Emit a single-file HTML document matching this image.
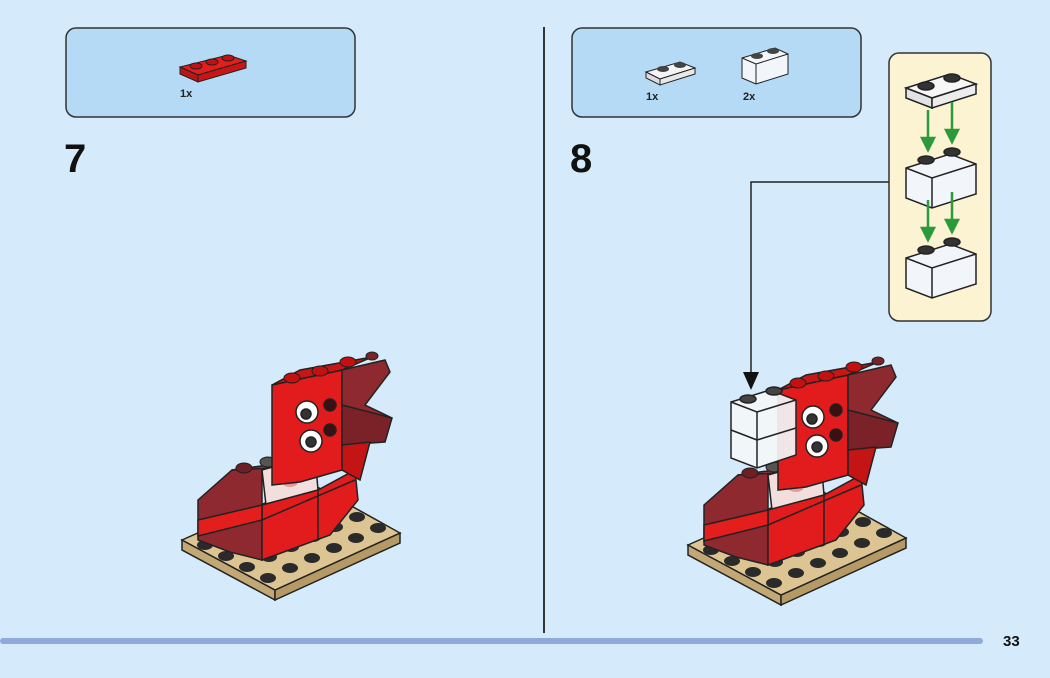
<!DOCTYPE html>
<html><head><style>
body{margin:0;background:#d5ebfb;width:1050px;height:673px;overflow:hidden;font-family:"Liberation Sans",sans-serif}
</style></head><body>
<svg width="1050" height="673" viewBox="0 0 1050 673" xmlns="http://www.w3.org/2000/svg">
<defs>
<g id="model">
  <polygon points="182,540 275,590 275,600 182,550" fill="#c2a874" stroke="#222" stroke-width="1.5"/>
  <polygon points="275,590 400,533 400,543 275,600" fill="#b59a66" stroke="#222" stroke-width="1.5"/>
  <polygon points="182,540 310,483 400,533 275,590" fill="#dcc592" stroke="#222" stroke-width="1.5"/>
  <g fill="#2a2a2a">
    <ellipse cx="205" cy="545" rx="8" ry="5"/><ellipse cx="226" cy="556" rx="8" ry="5"/><ellipse cx="247" cy="567" rx="8" ry="5"/><ellipse cx="268" cy="578" rx="8" ry="5"/>
    <ellipse cx="290" cy="568" rx="8" ry="5"/><ellipse cx="312" cy="558" rx="8" ry="5"/><ellipse cx="334" cy="548" rx="8" ry="5"/><ellipse cx="356" cy="538" rx="8" ry="5"/><ellipse cx="378" cy="528" rx="8" ry="5"/>
    <ellipse cx="269" cy="557" rx="8" ry="5"/><ellipse cx="291" cy="547" rx="8" ry="5"/><ellipse cx="313" cy="537" rx="8" ry="5"/><ellipse cx="335" cy="527" rx="8" ry="5"/><ellipse cx="357" cy="517" rx="8" ry="5"/>
    <ellipse cx="248" cy="546" rx="8" ry="5"/><ellipse cx="336" cy="506" rx="8" ry="5"/>
  </g>
  <!-- lower body -->
  <polygon points="198,500 232,470 262,466 262,560 230,552 198,540" fill="#8e2a2f" stroke="#222" stroke-width="1.5"/>
  <polygon points="232,470 262,466 300,455 272,468" fill="#a8343a" stroke="#222" stroke-width="1.5"/>
  <ellipse cx="244" cy="468" rx="8" ry="5" fill="#6e1f24" stroke="#222"/>
  <polygon points="262,470 315,455 318,490 266,505" fill="#f3dede" stroke="#222" stroke-width="1.5"/>
  <ellipse cx="290" cy="482" rx="8" ry="5" fill="#e59a9a"/>
  <ellipse cx="268" cy="462" rx="8" ry="5" fill="#555" stroke="#222"/>
  <polygon points="262,505 318,490 355,470 358,500 330,535 262,560" fill="#e21c1c" stroke="#222" stroke-width="1.5"/>
  <line x1="318" y1="490" x2="318" y2="540" stroke="#222" stroke-width="1.5"/>
  <polygon points="198,520 262,505 262,520 198,536" fill="#e41d1d" stroke="#222" stroke-width="1.5"/>
  <line x1="262" y1="520" x2="355" y2="480" stroke="#222" stroke-width="1.5"/>
  <!-- tower -->
  <polygon points="272,385 342,370 342,470 300,482 272,485" fill="#e21c1c" stroke="#222" stroke-width="1.5"/>
  <polygon points="272,385 300,370 372,357 342,370" fill="#c81616" stroke="#222" stroke-width="1.5"/>
  <polygon points="342,370 385,360 390,372 365,405 392,418 342,420" fill="#8e2a2f" stroke="#222" stroke-width="1.5"/>
  <polygon points="342,405 392,418 385,442 342,445" fill="#7a2228" stroke="#222" stroke-width="1.5"/>
  <polygon points="342,445 370,442 360,480 342,470" fill="#c41414" stroke="#222" stroke-width="1.5"/>
  <g fill="#c41010" stroke="#222"><ellipse cx="292" cy="378" rx="8" ry="5"/><ellipse cx="320" cy="371" rx="8" ry="5"/><ellipse cx="348" cy="362" rx="8" ry="5"/><ellipse cx="372" cy="356" rx="6" ry="4" fill="#7a2228"/></g>
  <g stroke="#222" stroke-width="1.5">
    <circle cx="307" cy="412" r="11" fill="#fff"/><circle cx="306" cy="414" r="5" fill="#333"/>
    <circle cx="311" cy="441" r="11" fill="#fff"/><circle cx="311" cy="442" r="5" fill="#333"/>
    <circle cx="330" cy="405" r="6" fill="#3a1010"/><circle cx="330" cy="430" r="6" fill="#3a1010"/>
  </g>
</g>
</defs>

<rect x="66" y="28" width="289" height="89" rx="10" fill="#b4daf5" stroke="#333" stroke-width="1.5"/>
<polygon points="180,67 228,55 246,61 198,75" fill="#e41d1d" stroke="#222"/>
<polygon points="180,67 198,75 198,82 180,74" fill="#b81515" stroke="#222"/>
<polygon points="198,75 246,61 246,68 198,82" fill="#c81616" stroke="#222"/>
<g fill="#c41010" stroke="#222"><ellipse cx="196" cy="66" rx="6" ry="3"/><ellipse cx="212" cy="62" rx="6" ry="3"/><ellipse cx="228" cy="58" rx="6" ry="3"/></g>
<text x="180" y="97" font-size="11" font-weight="bold" fill="#222">1x</text>
<text x="64" y="172" font-size="40" font-weight="bold" fill="#111">7</text>

<line x1="544" y1="27" x2="544" y2="633" stroke="#333" stroke-width="2"/>

<rect x="572" y="28" width="289" height="89" rx="10" fill="#b4daf5" stroke="#333" stroke-width="1.5"/>
<polygon points="646,72 680,62 695,68 660,79" fill="#f4f4f4" stroke="#222"/>
<polygon points="646,72 660,79 660,85 646,78" fill="#ddd" stroke="#222"/>
<polygon points="660,79 695,68 695,74 660,85" fill="#e8e8e8" stroke="#222"/>
<ellipse cx="663" cy="69" rx="6" ry="3" fill="#444"/><ellipse cx="680" cy="65" rx="6" ry="3" fill="#444"/>
<polygon points="742,58 775,48 788,54 788,74 756,84 742,78" fill="#f2f6fa" stroke="#222"/>
<line x1="756" y1="64" x2="756" y2="84" stroke="#222"/><line x1="742" y1="58" x2="756" y2="64" stroke="#222"/><line x1="756" y1="64" x2="788" y2="54" stroke="#222"/>
<ellipse cx="757" cy="56" rx="6" ry="3" fill="#444"/><ellipse cx="773" cy="51" rx="6" ry="3" fill="#444"/>
<text x="646" y="100" font-size="11" font-weight="bold" fill="#222">1x</text>
<text x="743" y="100" font-size="11" font-weight="bold" fill="#222">2x</text>
<text x="570" y="172" font-size="40" font-weight="bold" fill="#111">8</text>

<rect x="889" y="53" width="102" height="268" rx="10" fill="#fcf3d3" stroke="#333" stroke-width="1.5"/>
<g stroke="#222" stroke-width="1.5">
  <polygon points="906,88 950,74 976,84 932,98" fill="#f7f7f7"/>
  <polygon points="906,88 932,98 932,108 906,98" fill="#e3e3e3"/>
  <polygon points="932,98 976,84 976,94 932,108" fill="#ececec"/>
  <ellipse cx="926" cy="86" rx="8" ry="4" fill="#333"/><ellipse cx="952" cy="78" rx="8" ry="4" fill="#333"/>
  <polygon points="906,168 950,154 976,164 976,194 932,208 906,198" fill="#f2f6fa"/>
  <polyline points="906,168 932,178 976,164" fill="none"/><line x1="932" y1="178" x2="932" y2="208"/>
  <ellipse cx="926" cy="160" rx="8" ry="4" fill="#333"/><ellipse cx="952" cy="152" rx="8" ry="4" fill="#333"/>
  <polygon points="906,258 950,244 976,254 976,284 932,298 906,288" fill="#f2f6fa"/>
  <polyline points="906,258 932,268 976,254" fill="none"/><line x1="932" y1="268" x2="932" y2="298"/>
  <ellipse cx="926" cy="250" rx="8" ry="4" fill="#333"/><ellipse cx="952" cy="242" rx="8" ry="4" fill="#333"/>
</g>
<g stroke="#2a9a3a" stroke-width="2.5" fill="#2a9a3a">
  <line x1="928" y1="110" x2="928" y2="140"/><polygon points="922,138 934,138 928,150"/>
  <line x1="952" y1="102" x2="952" y2="132"/><polygon points="946,130 958,130 952,142"/>
  <line x1="928" y1="200" x2="928" y2="230"/><polygon points="922,228 934,228 928,240"/>
  <line x1="952" y1="192" x2="952" y2="222"/><polygon points="946,220 958,220 952,232"/>
</g>
<polyline points="889,182 751,182 751,375" fill="none" stroke="#222" stroke-width="1.5"/>
<polygon points="743,372 759,372 751,390" fill="#111"/>

<use href="#model"/>
<use href="#model" transform="translate(506,5)"/>
<g stroke="#222" stroke-width="1.5">
  <polygon points="731,402 770,390 796,400 796,455 757,468 731,458" fill="#f3f6f9" fill-opacity="0.92"/>
  <polyline points="731,402 757,412 796,400" fill="none"/><line x1="757" y1="412" x2="757" y2="468"/>
  <line x1="731" y1="430" x2="757" y2="440"/><line x1="757" y1="440" x2="796" y2="428"/>
  <ellipse cx="748" cy="399" rx="8" ry="4" fill="#444"/><ellipse cx="774" cy="391" rx="8" ry="4" fill="#444"/>
</g>

<rect x="0" y="638" width="983" height="6" rx="3" fill="#8eaadd"/>
<text x="1003" y="646" font-size="15" font-weight="bold" fill="#111">33</text>
</svg>
</body></html>
